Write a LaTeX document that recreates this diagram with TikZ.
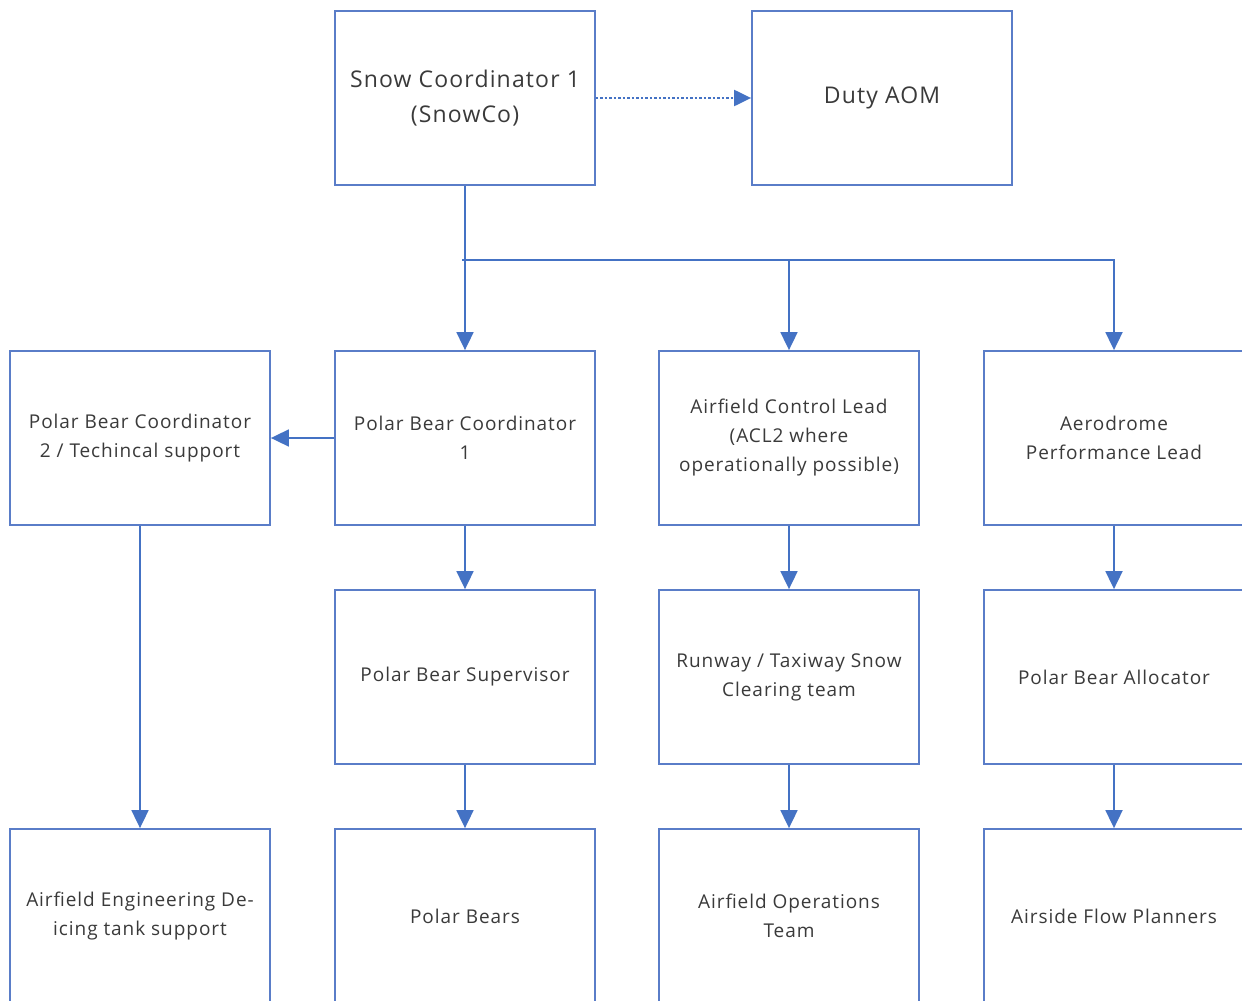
\documentclass[tikz,border=0pt]{standalone}
\usepackage{fontspec}
\setmainfont{Open Sans}[LetterSpace=5]
\usetikzlibrary{arrows.meta}
\definecolor{lineblue}{HTML}{4472C4}
\definecolor{boxblue}{HTML}{5A7DC8}
\definecolor{txt}{HTML}{3A3A3A}
\begin{document}
\begin{tikzpicture}[x=1pt,y=-1pt,
  orgbox/.style={draw=boxblue, line width=1.8pt, minimum width=260pt, minimum height=174pt,
    inner sep=0pt, align=center, text=txt, font=\fontsize{19}{29}\selectfont},
  bigbox/.style={orgbox, font=\fontsize{23}{35}\selectfont},
  conn/.style={draw=lineblue, line width=1.8pt, -{Triangle[length=18pt,width=17pt]}},
  dotconn/.style={draw=lineblue, line width=2.2pt, dash pattern=on 2.5pt off 2pt, -{Triangle[length=17pt,width=16pt]}}
]
\useasboundingbox (0,0) rectangle (1242,1001);
\fill[white] (0,0) rectangle (1242,1001);
% top row
\node[bigbox] (snow) at (465,98) {Snow Coordinator 1\\(SnowCo)};
\node[bigbox, text depth=5pt] (aom) at (882,98) {Duty AOM};
% row 2
\node[orgbox] (pbc2) at (140,438) {Polar Bear Coordinator\\2 / Techincal support};
\node[orgbox] (pbc1) at (465,438) {Polar Bear Coordinator\\1};
\node[orgbox] (acl) at (789,438) {Airfield Control Lead\\(ACL2 where\\operationally possible)};
\node[orgbox] (apl) at (1114,438) {Aerodrome\\Performance Lead};
% row 3
\node[orgbox] (pbs) at (465,677) {Polar Bear Supervisor};
\node[orgbox] (rts) at (789,677) {Runway / Taxiway Snow\\Clearing team};
\node[orgbox] (pba) at (1114,677) {Polar Bear Allocator};
% row 4
\node[orgbox] (aed) at (140,916) {Airfield Engineering De-\\icing tank support};
\node[orgbox] (pb) at (465,916) {Polar Bears};
\node[orgbox] (aot) at (789,916) {Airfield Operations\\Team};
\node[orgbox] (afp) at (1114,916) {Airside Flow Planners};
% connectors
\draw[dotconn] (snow.east) -- (aom.west);
\draw[conn] (snow.south) -- (pbc1.north);
\coordinate (j) at (462,260);
\draw[conn] (j) -| (acl.north);
\draw[conn] (j) -| (apl.north);
\draw[conn] (pbc1.west) -- (pbc2.east);
\draw[conn] (pbc2.south) -- (aed.north);
\draw[conn] (pbc1.south) -- (pbs.north);
\draw[conn] (pbs.south) -- (pb.north);
\draw[conn] (acl.south) -- (rts.north);
\draw[conn] (rts.south) -- (aot.north);
\draw[conn] (apl.south) -- (pba.north);
\draw[conn] (pba.south) -- (afp.north);
\end{tikzpicture}
\end{document}
